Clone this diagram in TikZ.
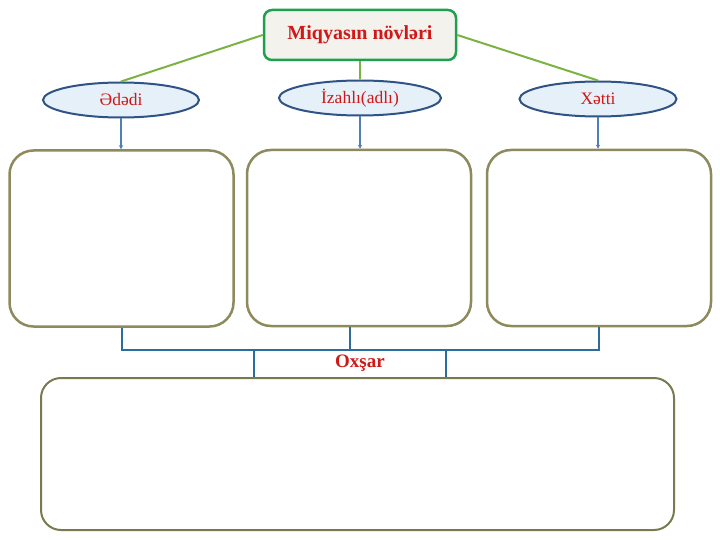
\documentclass[tikz,border=0pt]{standalone}
\usepackage{fontspec}
\setmainfont{Liberation Serif}
\usepackage{tikz}
\usetikzlibrary{
  shapes.geometric,
  arrows.meta,
  positioning,
  calc
}
\definecolor{TitleRed}{HTML}{D01818}
\definecolor{LeafGreen}{HTML}{7AB342}
\definecolor{FrameGreen}{HTML}{1FA04E}
\definecolor{PaperBeige}{HTML}{F4F2EC}
\definecolor{IceBlue}{HTML}{E6F0F8}
\definecolor{NavyEdge}{HTML}{2F5385}
\definecolor{SteelBlue}{HTML}{4F7FB4}
\definecolor{SeaBlue}{HTML}{2B6E9C}
\definecolor{Khaki}{HTML}{8E8A5E}
\definecolor{DarkKhaki}{HTML}{7A7A50}
\tikzset{
  % Title box
  head/.style={
    rectangle, rounded corners=8pt,
    draw=FrameGreen, fill=PaperBeige, line width=2.5pt,
    minimum width=192pt, minimum height=50pt,
    text=TitleRed, font=\fontsize{20}{22}\selectfont\bfseries
  },
  % Kind ellipse
  kind/.style={
    ellipse, draw=NavyEdge, fill=IceBlue, line width=2pt,
    minimum height=35pt, inner sep=0pt,
    text=TitleRed, font=\fontsize{17.5}{19}\selectfont
  },
  % Empty content box
  slot/.style={
    rectangle, rounded corners=24pt,
    draw=Khaki, line width=2.5pt,
    minimum width=224pt, minimum height=176pt
  },
  % Green branch
  branch/.style={draw=LeafGreen, line width=2pt},
  % Down arrow
  drop/.style={
    -{Stealth[length=4pt,width=4pt]},
    draw=SteelBlue, line width=1.3pt
  },
  % Bracket lines
  brace/.style={draw=SeaBlue, line width=2pt}
}
\begin{document}
\begin{tikzpicture}[x=1pt,y=-1pt]
  \useasboundingbox (0,0) rectangle (720,540);

  \node[head] (top) at (360,35) {Miqyasın növləri};

  \node[kind, minimum width=156pt] (ededi)  at (121,100) {Ədədi};
  \node[kind, minimum width=162pt] (izahli) at (360,98)  {İzahlı(adlı)};
  \node[kind, minimum width=157pt] (xetti)  at (598,99)  {Xətti};

  \node[slot] (boxA) at (121.5,238.5) {};
  \node[slot] (boxB) at (359,238)     {};
  \node[slot] (boxC) at (599,238)     {};

  \node[rectangle, rounded corners=20pt, draw=DarkKhaki, line width=2pt,
        minimum width=633pt, minimum height=152pt] (common) at (357.5,454) {};

  \draw[branch] (top.west)  -- (ededi.north);
  \draw[branch] (top.south) -- (izahli.north);
  \draw[branch] (top.east)  -- (xetti.north);

  \draw[drop] (ededi.south)  -- (ededi.south |- boxA.north);
  \draw[drop] (izahli.south) -- (izahli.south |- boxB.north);
  \draw[drop] (xetti.south)  -- (xetti.south |- boxC.north);

  % bracket joining the three boxes
  \coordinate (midj) at (350,350);
  \coordinate (legL) at (254,350);
  \coordinate (legR) at (446,350);
  \draw[brace] (boxA.south) -- (boxA.south |- midj) -- (boxC.south |- midj) -- (boxC.south);
  \draw[brace] (midj |- boxB.south) -- (midj);
  \draw[brace] (legL) -- (legL |- common.north);
  \draw[brace] (legR) -- (legR |- common.north);

  \node[text=TitleRed, font=\fontsize{19}{21}\selectfont\bfseries] (oxsar) at (360,363) {Oxşar};
\end{tikzpicture}
\end{document}
